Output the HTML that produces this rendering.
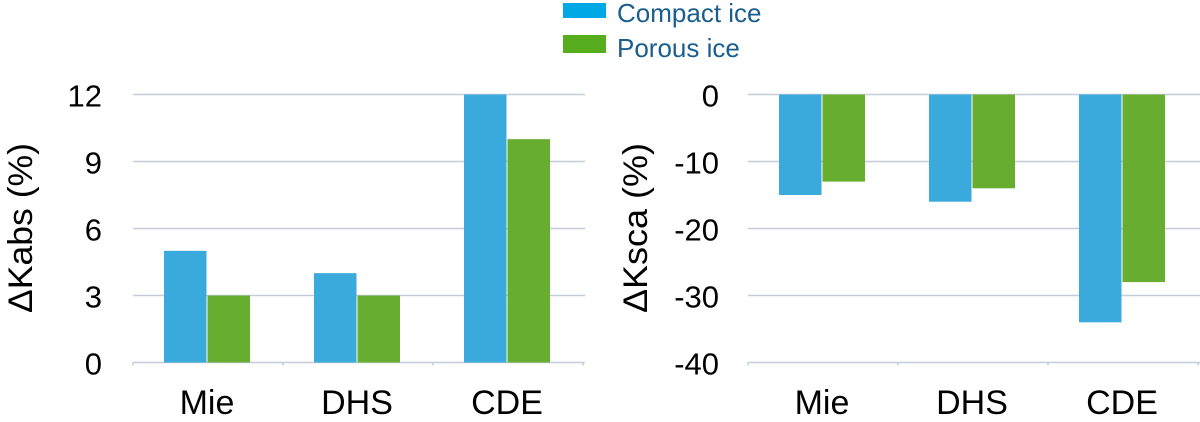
<!DOCTYPE html>
<html><head><meta charset="utf-8"><style>
body{margin:0;background:#fff;width:1200px;height:417px;overflow:hidden}
text{font-family:"Liberation Sans",sans-serif}
</style></head><body>
<svg width="1200" height="417">
<g id="legend">
<rect x="563" y="3" width="43" height="15" fill="#00a9e6"/>
<text x="617" y="22" font-size="26" fill="#1a5e8f">Compact ice</text>
<rect x="563" y="35" width="43" height="18" fill="#58ad1f"/>
<text x="617" y="57" font-size="26" fill="#1a5e8f">Porous ice</text>
</g>
<g id="left"></g>
<g id="right"></g>
</svg>
<script>
const categories=["Mie","DHS","CDE"];
const kabsCompact=[5,4,12];
const kabsPorous=[3,3,10];
const kabsTicks=[0,3,6,9,12];
const kscaCompact=[-15,-16,-34];
const kscaPorous=[-13,-14,-28];
const kscaTicks=[0,-10,-20,-30,-40];
const NS="http://www.w3.org/2000/svg";
function mk(p,t,a){const e=document.createElementNS(NS,t);for(const k in a)e.setAttribute(k,a[k]);p.appendChild(e);return e;}
function draw(g,x0,ymin,ymax,ticks,c1,c2,title,tickX,titleX,pref){
  const yTop=94.5,yBot=362.5,catW=150;
  const y=v=>yBot-(v-ymin)/(ymax-ymin)*(yBot-yTop);
  ticks.forEach(t=>{
    const l=mk(g,"line",{x1:x0,x2:x0+catW*3+2,y1:y(t),y2:y(t),stroke:"#c3ccd9","stroke-width":1.5});
    
    
    const tx=mk(g,"text",{x:tickX,y:y(t)+12,"font-size":31,"text-anchor":"end",fill:"#000"});
    tx.textContent=t;
    
    
  });
  for(let i=0;i<=3;i++){const tk=mk(g,"line",{x1:x0+i*catW,x2:x0+i*catW,y1:yBot,y2:yBot+3,stroke:"#c3ccd9","stroke-width":1.5});
    
    }
  const base=y(Math.max(ymin,Math.min(0,ymax)));
  categories.forEach((c,i)=>{
    [[c1[i],"#3aa9dc","compact"],[c2[i],"#67ad2f","porous"]].forEach((s,j)=>{
      const bx=x0+i*catW+31+j*43.5, vy=y(s[0]);
      const r=mk(g,"rect",{x:bx,y:Math.min(vy,base),width:42.5,height:Math.abs(vy-base),fill:s[1]});
      
      
    });
    const lt=mk(g,"text",{x:x0+i*catW+74,y:414,"font-size":34,"text-anchor":"middle",fill:"#000"});
    lt.textContent=c;
    
    
  });
  const tt=mk(g,"text",{x:titleX,y:228,"font-size":34,"text-anchor":"middle",textLength:170,lengthAdjust:"spacingAndGlyphs",transform:`rotate(-90 ${titleX} 228)`});
  tt.textContent=title;
  
  
}
draw(document.getElementById("left"),133,0,12,kabsTicks,kabsCompact,kabsPorous,"ΔKabs (%)",102,32,"kabs");
draw(document.getElementById("right"),748,-40,0,kscaTicks,kscaCompact,kscaPorous,"ΔKsca (%)",719,647,"ksca");
</script>
</body></html>
